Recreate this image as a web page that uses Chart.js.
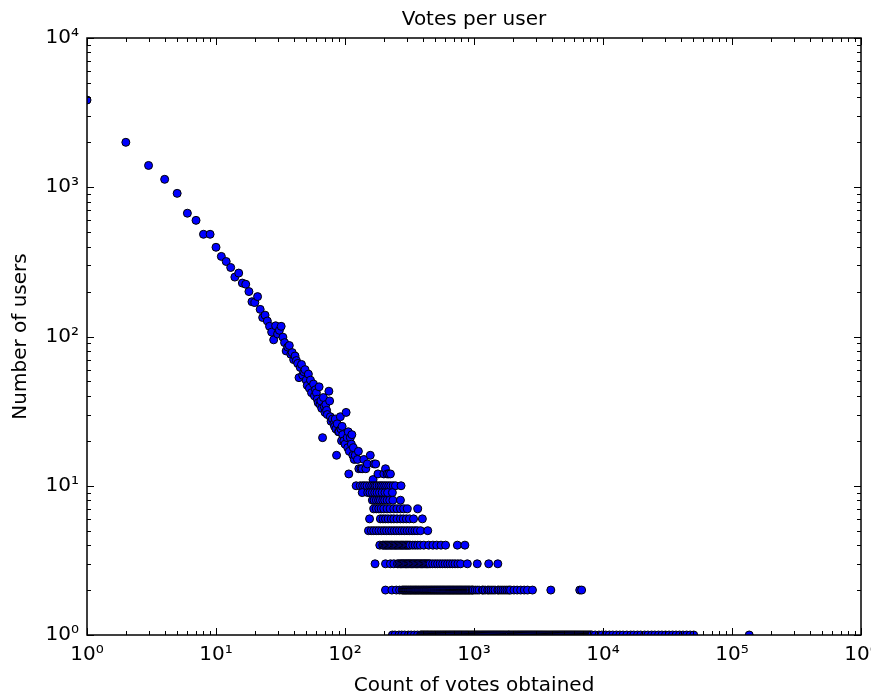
<!DOCTYPE html>
<html>
<head>
<meta charset="utf-8">
<script src="https://cdn.jsdelivr.net/npm/chart.js@4.4.1/dist/chart.umd.min.js"></script>
<style>
  html, body { margin: 0; padding: 0; background: #ffffff; }
  canvas { display: block; }
</style>
</head>
<body>
<canvas id="c" width="871" height="698"></canvas>
<script>
// ---- tick values and labels ----
const xTickValues = [1, 10, 100, 1000, 10000, 100000, 1000000];
const xTickLabels = ['10⁰', '10¹', '10²', '10³', '10⁴', '10⁵', '10⁶'];
const yTickValues = [1, 10, 100, 1000, 10000];
const yTickLabels = ['10⁰', '10¹', '10²', '10³', '10⁴'];
const minorMultipliers = [2, 3, 4, 5, 6, 7, 8, 9];

// ---- data: vote count (x) -> number of users (y), head of distribution ----
const headVotes = [1, 2, 3, 4, 5, 6, 7, 8, 9, 10, 11, 12, 13, 14, 15, 16, 17, 18, 19, 20,
  21, 22, 23, 24, 25, 26, 27, 28, 29, 30, 31, 32, 33, 34, 35, 36, 37, 38, 39, 40,
  41, 42, 43, 44, 45, 46, 47, 48, 49, 50, 51, 52, 53, 54, 55, 57, 58, 59, 60, 61,
  62, 63, 64, 65, 66, 67, 68, 69, 70, 71, 72, 73, 75, 76, 77, 78, 80, 82, 83, 84,
  85, 86, 87, 89, 90, 92, 93, 94, 95, 96, 98, 100, 102, 104, 105, 106, 107, 108, 110, 112,
  113, 115, 116, 118, 120, 125, 127, 128, 133, 136, 140, 145, 149, 157, 165, 168, 173, 180, 200, 206,
  212, 218, 225];
const headUsers = [3840, 2000, 1400, 1130, 910, 670, 600, 484, 484, 396, 344, 318, 290, 250, 266, 228, 224, 200, 171, 169,
  185, 152, 134, 139, 127, 117, 107, 95, 118, 104, 110, 117, 99, 91, 80, 85, 87, 76, 78, 70,
  74, 69, 66, 53, 62, 65, 55, 58, 60, 51, 47, 56, 45, 51, 42, 48, 40, 44, 42, 38,
  36, 46, 35, 37, 33, 21, 39, 34, 31, 35, 32, 30, 43, 37, 29, 27, 28, 26, 25, 28,
  24, 16, 26, 23, 23, 29, 24, 20, 25, 22, 20, 19, 31, 21, 18, 23, 12, 17, 21, 19,
  22, 16, 18, 15, 16, 15, 17, 13, 13, 13, 15, 13, 14, 16, 11, 14, 14, 12, 12, 13,
  12, 12, 12];

// vote counts held by exactly N users (tail of distribution)
const votesWith10Users = [122, 131, 137, 142, 148, 155, 161, 167, 172, 177, 184, 190, 196, 203, 210, 218, 226, 236, 246, 272];
const votesWith9Users = [136, 150, 156, 163, 170, 177, 185, 194, 204, 214, 233];
const votesWith8Users = [163, 168, 175, 182, 188, 196, 203, 212, 222, 235, 269];
const votesWith7Users = [167, 175, 183, 191, 200, 212, 224, 239, 253, 269, 285, 304, 366];
const votesWith6Users = [155, 188, 197, 206, 216, 228, 239, 253, 269, 283, 299, 316, 340, 398];
const votesWith5Users = [152, 160, 167, 175, 183, 192, 201, 210, 220, 230, 241, 252, 264, 276, 289, 303, 317, 332, 348, 363, 385, 438];
const votesWith4Users = [186, 196, 200, 205, 209, 214, 219, 224, 229, 234, 240, 245, 250, 256, 262, 268, 274, 280, 286, 293,
  299, 306, 313, 320, 335, 350, 366, 383, 408, 445, 480, 514, 555, 602, 743, 850];
const votesWith3Users = [171, 206, 225, 239, 255, 262, 269, 275, 281, 287, 294, 300, 307, 313, 320, 327, 335, 342, 350, 358,
  366, 374, 383, 391, 400, 409, 418, 427, 437, 447, 457, 478, 500,
  522, 546, 571, 597, 624, 652, 682, 713, 750, 787, 888, 1060, 1300, 1530];
const votesWith2Users = [206, 231, 250, 265, 277, 282, 287, 292, 297, 302, 308, 313, 319, 324, 330, 336, 342, 348, 354, 360,
  367, 373, 380, 387, 394, 401, 408, 415, 423, 430, 438, 446, 454, 462, 470, 478, 487, 495, 504, 513,
  522, 531, 541, 550, 560, 570, 580, 590, 601, 612, 623, 634, 645, 656, 668, 680, 692, 704, 717, 730,
  743, 756, 770, 783, 797, 811, 826, 841, 856, 871, 887, 903, 919, 935, 960, 970,
  986, 1021, 1058, 1096, 1160, 1177, 1219, 1277, 1308, 1355, 1404, 1455, 1530, 1561, 1618, 1676, 1736, 1799, 1863, 1924,
  2040, 2160, 2300, 2450, 2600, 2840, 3940, 6600, 6830];
const votesWith1User = [233, 244, 262, 275, 290, 310, 326, 345, 365,
  385, 391, 398, 405, 412, 419, 427, 434, 441, 449, 457, 465, 473, 481, 490, 498, 507, 516, 525, 534,
  544, 553, 563, 573, 583, 593, 604, 614, 625, 636, 647, 658, 670, 682, 694, 706, 718, 731, 744, 757,
  770, 783, 797, 811, 825, 840, 855, 870, 885, 900, 916, 932, 949, 965, 982, 999, 1017, 1035, 1053, 1071,
  1090, 1109, 1129, 1149, 1169, 1189, 1210, 1231, 1253, 1275, 1297, 1320, 1343, 1367, 1391, 1415, 1440, 1465, 1491, 1517,
  1544, 1571, 1598, 1626, 1655, 1684, 1713, 1743, 1774, 1805, 1837, 1869, 1902, 1935, 1969, 2004, 2039, 2075, 2111, 2148,
  2186, 2224, 2263, 2303, 2343, 2384, 2426, 2469, 2512, 2556, 2601, 2646, 2693, 2740, 2788, 2837, 2887, 2938, 2989, 3042,
  3095, 3149, 3204, 3261, 3318, 3376, 3435, 3496, 3557, 3620, 3683, 3748, 3813, 3880, 3948, 4018, 4088, 4160, 4232, 4307,
  4382, 4459, 4537, 4617, 4698, 4781, 4864, 4950, 5036, 5125, 5215, 5306, 5399, 5494, 5590, 5689, 5788, 5890, 5993, 6098,
  6205, 6314, 6425, 6538, 6652, 6769, 6888, 7009, 7131, 7257, 7384, 7514, 7645, 7780, 7916, 8055, 8196,
  8700, 9300, 9800, 10500, 11200, 11900, 12700, 13500, 14300, 15300, 16400, 17300, 18500, 19600, 21000, 22300,
  23800, 25200, 26900, 28600, 30500, 32500, 34600, 36800, 39200, 41700, 44500, 47400, 50500, 136000];

const tailLevels = [
  [10, votesWith10Users], [9, votesWith9Users], [8, votesWith8Users], [7, votesWith7Users],
  [6, votesWith6Users], [5, votesWith5Users], [4, votesWith4Users], [3, votesWith3Users],
  [2, votesWith2Users], [1, votesWith1User]
];

const points = headVotes.map((v, i) => ({ x: v, y: headUsers[i] }));
tailLevels.forEach(([users, list]) => list.forEach(v => points.push({ x: v, y: users })));

// ---- frame + inward ticks on all four sides (matplotlib classic look) ----
const framePlugin = {
  id: 'frame',
  afterDraw(chart) {
    const { ctx, chartArea: a, scales } = chart;
    const xs = scales.x, ys = scales.y;
    const majorLen = 7, minorLen = 4;
    ctx.save();
    ctx.strokeStyle = '#000';
    ctx.lineWidth = 1;
    ctx.beginPath();
    const xMinor = [];
    xTickValues.forEach(v => minorMultipliers.forEach(m => { if (v * m < 1000000) xMinor.push(v * m); }));
    const yMinor = [];
    yTickValues.forEach(v => minorMultipliers.forEach(m => { if (v * m < 10000) yMinor.push(v * m); }));
    const vtick = (px, len) => {
      ctx.moveTo(px, a.bottom); ctx.lineTo(px, a.bottom - len);
      ctx.moveTo(px, a.top); ctx.lineTo(px, a.top + len);
    };
    const htick = (py, len) => {
      ctx.moveTo(a.left, py); ctx.lineTo(a.left + len, py);
      ctx.moveTo(a.right, py); ctx.lineTo(a.right - len, py);
    };
    xTickValues.forEach(v => vtick(Math.round(xs.getPixelForValue(v)) + 0.5, majorLen));
    xMinor.forEach(v => vtick(Math.round(xs.getPixelForValue(v)) + 0.5, minorLen));
    yTickValues.forEach(v => htick(Math.round(ys.getPixelForValue(v)) + 0.5, majorLen));
    yMinor.forEach(v => htick(Math.round(ys.getPixelForValue(v)) + 0.5, minorLen));
    ctx.stroke();
    ctx.lineWidth = 1.5;
    ctx.strokeRect(a.left, a.top, a.right - a.left, a.bottom - a.top);
    ctx.restore();
  }
};

const FONT = 'DejaVu Sans';

new Chart(document.getElementById('c'), {
  type: 'scatter',
  data: {
    datasets: [{
      data: points,
      backgroundColor: '#0000ff',
      borderColor: '#000000',
      borderWidth: 1,
      pointRadius: 4,
      pointHoverRadius: 4,
      clip: 0
    }]
  },
  options: {
    responsive: false,
    animation: false,
    events: [],
    layout: { padding: { left: 0, right: 10, top: 0, bottom: 0 } },
    plugins: {
      legend: { display: false },
      tooltip: { enabled: false },
      title: {
        display: true,
        fullSize: false,
        text: 'Votes per user',
        color: '#000',
        font: { family: FONT, size: 20, weight: 'normal' },
        padding: { top: 8, bottom: 6 }
      }
    },
    scales: {
      x: {
        type: 'logarithmic',
        position: 'bottom',
        min: 1,
        max: 1000000,
        grid: { display: false, drawTicks: false, tickLength: 0 },
        border: { display: false },
        afterBuildTicks: (s) => { s.ticks = xTickValues.map(v => ({ value: v })); },
        afterFit: (s) => { s.height = 63; s.paddingLeft = 0; s.paddingRight = 0; },
        ticks: {
          autoSkip: false, maxRotation: 0, minRotation: 0,
          color: '#000', padding: 8,
          font: { family: FONT, size: 20 },
          callback: (value, index) => xTickLabels[index]
        },
        title: {
          display: true, text: 'Count of votes obtained', color: '#000',
          font: { family: FONT, size: 20 }, padding: { top: 0, bottom: 0 }
        }
      },
      y: {
        type: 'logarithmic',
        position: 'left',
        min: 1,
        max: 10000,
        grid: { display: false, drawTicks: false, tickLength: 0 },
        border: { display: false },
        afterBuildTicks: (s) => { s.ticks = yTickValues.map(v => ({ value: v })); },
        afterFit: (s) => { s.width = 87; s.paddingTop = 0; s.paddingBottom = 0; },
        ticks: {
          autoSkip: false, color: '#000', padding: 8,
          font: { family: FONT, size: 20 },
          callback: (value, index) => yTickLabels[index]
        },
        title: {
          display: true, text: 'Number of users', color: '#000',
          font: { family: FONT, size: 20 }, padding: { top: 9, bottom: 0 }
        }
      }
    }
  },
  plugins: [framePlugin]
});
</script>
</body>
</html>
